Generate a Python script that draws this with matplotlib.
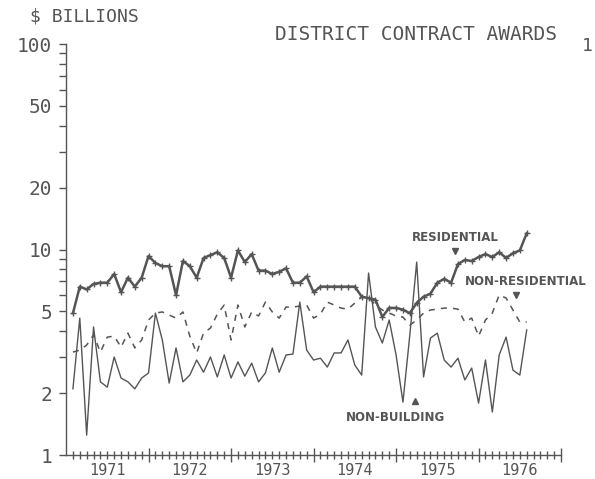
import numpy as np
import matplotlib
matplotlib.use("Agg")
import matplotlib.pyplot as plt
from matplotlib.ticker import FixedLocator, FuncFormatter, NullFormatter

# monthly contract awards, $ billions (Feb 1971 .. Aug 1976)
meses = np.arange(1, 68)
residencial = [4.9, 6.6, 6.4, 6.8, 6.9, 6.9, 7.6, 6.2, 7.3, 6.6, 7.3, 9.3,
               8.6, 8.3, 8.3, 6.0, 8.8, 8.3, 7.3, 9.1, 9.4, 9.7, 9.1, 7.3,
               9.9, 8.7, 9.5, 7.9, 7.9, 7.6, 7.8, 8.1, 6.9, 6.9, 7.4, 6.2,
               6.6, 6.6, 6.6, 6.6, 6.6, 6.6, 5.9, 5.8, 5.7, 4.7, 5.2, 5.2,
               5.1, 4.9, 5.5, 5.9, 6.1, 6.9, 7.2, 6.9, 8.5, 8.9, 8.8, 9.2,
               9.5, 9.2, 9.7, 9.1, 9.6, 9.9, 12.0]
no_residencial = [3.17, 3.24, 3.43, 3.84, 3.17, 3.75, 3.79, 3.35, 3.92, 3.32, 3.63, 4.54,
                  4.91, 4.97, 4.80, 4.64, 4.97, 3.79, 3.14, 3.92, 4.15, 4.85, 5.37, 3.63,
                  5.37, 4.20, 4.97, 4.75, 5.55, 4.97, 4.64, 5.25, 5.25, 5.31, 5.37, 4.64,
                  4.85, 5.55, 5.37, 5.19, 5.13, 5.49, 5.87, 5.87, 5.37, 5.08, 4.91, 4.75,
                  4.69, 4.29, 4.54, 4.91, 5.08, 5.13, 5.19, 5.19, 5.13, 4.44, 4.64, 3.79,
                  4.54, 4.91, 6.01, 5.81, 5.08, 4.44, 4.44]
no_edificacion = [2.10, 4.64, 1.25, 4.20, 2.27, 2.14, 3.00, 2.37, 2.27, 2.10, 2.37, 2.51,
                  4.91, 3.63, 2.24, 3.32, 2.27, 2.45, 2.90, 2.53, 3.00, 2.40, 3.07, 2.37,
                  2.84, 2.42, 2.80, 2.27, 2.51, 3.32, 2.53, 3.07, 3.10, 5.55, 3.24, 2.90,
                  2.96, 2.68, 3.14, 3.14, 3.63, 2.74, 2.45, 7.69, 4.20, 3.51, 4.54, 3.07,
                  1.81, 3.84, 8.69, 2.40, 3.71, 3.92, 2.90, 2.68, 2.96, 2.32, 2.65, 1.79,
                  2.90, 1.62, 3.07, 3.75, 2.59, 2.45, 4.06]
anios = [1971, 1972, 1973, 1974, 1975, 1976]
y_ticks = [1, 2, 5, 10, 20, 50, 100]

x = 1971 + meses / 12.0
gris = '#555555'
mono = 'DejaVu Sans Mono'

fig = plt.figure(figsize=(5.95, 4.79), dpi=100)
ax = fig.add_axes([0.111, 0.05, 0.832, 0.858])

ax.plot(x, residencial, color=gris, linewidth=1.8, marker='+',
        markersize=4, markeredgewidth=1.0)
ax.plot(x, no_residencial, color=gris, linewidth=1.1, linestyle=(0, (4, 4)))
ax.plot(x, no_edificacion, color=gris, linewidth=1.0)

ax.set_yscale('log')
ax.set_ylim(1, 100)
ax.set_xlim(1971, 1977)

for s in ['top', 'right']:
    ax.spines[s].set_visible(False)
for s in ['left', 'bottom']:
    ax.spines[s].set_color(gris)
    ax.spines[s].set_linewidth(1.0)

# eje y logaritmico
ax.yaxis.set_major_locator(FixedLocator(y_ticks))
ax.yaxis.set_major_formatter(FuncFormatter(lambda v, p: '%d' % v))
menores = [d * 10 ** e for e in range(0, 2) for d in range(2, 10)]
ax.yaxis.set_minor_locator(FixedLocator([m for m in menores if m not in y_ticks]))
ax.yaxis.set_minor_formatter(NullFormatter())
ax.tick_params(axis='y', which='both', direction='out', length=5, width=1,
               color=gris, labelcolor=gris, pad=5)
for lab in ax.get_yticklabels():
    lab.set_fontfamily(mono)
    lab.set_fontsize(14)

# eje x: anos en los limites, meses como marcas menores
ax.xaxis.set_major_locator(FixedLocator(list(range(1972, 1978))))
ax.xaxis.set_major_formatter(NullFormatter())
ax.xaxis.set_minor_locator(FixedLocator([1971 + m / 12.0 for m in range(1, 72) if m % 12 != 0]))
ax.xaxis.set_minor_formatter(FuncFormatter(
    lambda v, p: str(int(v)) if abs((v - int(v)) - 0.5) < 0.01 else ''))
ax.tick_params(axis='x', which='major', direction='inout', length=10, width=1, color=gris)
ax.tick_params(axis='x', which='minor', direction='inout', length=6, width=1,
               color=gris, labelcolor=gris, pad=3)
for lab in ax.xaxis.get_minorticklabels():
    lab.set_fontfamily(mono)
    lab.set_fontsize(11)

# textos
fig.text(0.05, 0.965, '$ BILLIONS', fontfamily=mono, fontsize=13, color=gris, va='center')
fig.text(0.936, 0.927, 'DISTRICT CONTRACT AWARDS', fontfamily=mono, fontsize=14,
         color=gris, va='center', ha='right')
fig.text(0.978, 0.905, '1', fontfamily=mono, fontsize=13, color=gris, va='center')

ax.text(1975.72, 11.4, 'RESIDENTIAL', fontsize=8.5, fontweight='bold',
        color=gris, ha='center', va='center')
ax.plot([1975.71], [9.8], marker='v', color=gris, markersize=5)
ax.text(1976.57, 7.03, 'NON-RESIDENTIAL', fontsize=8.5, fontweight='bold',
        color=gris, ha='center', va='center', clip_on=False)
ax.plot([1976.45], [6.0], marker='v', color=gris, markersize=5, clip_on=False)
ax.text(1974.99, 1.53, 'NON-BUILDING', fontsize=8.5, fontweight='bold',
        color=gris, ha='center', va='center')
ax.plot([1975.23], [1.83], marker='^', color=gris, markersize=5)

fig.savefig('out.png', dpi=100)
